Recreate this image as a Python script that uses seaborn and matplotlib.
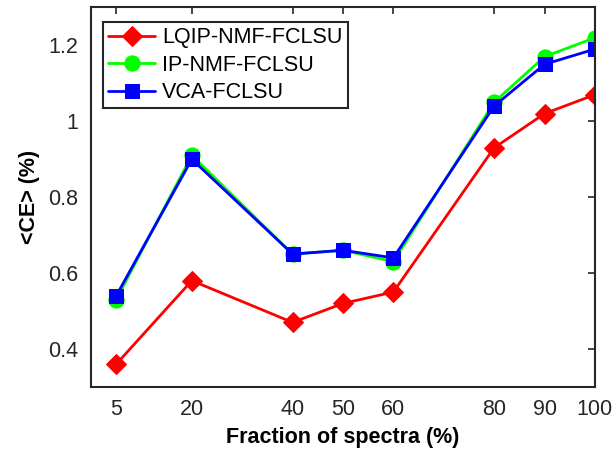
import matplotlib
matplotlib.use("Agg")
import matplotlib.pyplot as plt
import seaborn as sns
import pandas as pd

fractions = [5, 20, 40, 50, 60, 80, 90, 100]
lqip = [0.36, 0.58, 0.47, 0.52, 0.55, 0.93, 1.02, 1.07]
ipnmf = [0.53, 0.91, 0.65, 0.66, 0.63, 1.05, 1.17, 1.22]
vca = [0.54, 0.90, 0.65, 0.66, 0.64, 1.04, 1.15, 1.19]
names = ["LQIP-NMF-FCLSU", "IP-NMF-FCLSU", "VCA-FCLSU"]
yticks = [0.4, 0.6, 0.8, 1.0, 1.2]
ytick_labels = ["0.4", "0.6", "0.8", "1", "1.2"]

df = pd.DataFrame({
    "x": fractions * 3,
    "y": lqip + ipnmf + vca,
    "method": [names[0]] * 8 + [names[1]] * 8 + [names[2]] * 8,
})

sns.set_style("white")
plt.rcParams['font.family'] = ['Liberation Sans', 'DejaVu Sans']

fig = plt.figure(figsize=(6.13, 4.59), dpi=100)
ax = fig.add_axes([0.1485, 0.157, 0.822, 0.827])

palette = {names[0]: "#ff0000", names[1]: "#00ff00", names[2]: "#0000ff"}
markers = {names[0]: "D", names[1]: "o", names[2]: "s"}
sizes_m = {names[0]: 10, names[1]: 11, names[2]: 10}

for n in names:
    sub = df[df["method"] == n]
    sns.lineplot(data=sub, x="x", y="y", ax=ax, color=palette[n], marker=markers[n],
                 markersize=sizes_m[n], markeredgecolor=palette[n], linewidth=2,
                 label=n)

ax.set_xlim(0, 100)
ax.set_ylim(0.3, 1.3)
ax.set_xticks(fractions)
ax.set_xticklabels([str(f) for f in fractions])
ax.set_yticks(yticks)
ax.set_yticklabels(ytick_labels)
ax.tick_params(direction="in", length=5, width=1.2, top=True, right=True,
               labelsize=15.5, colors="#262626", pad=9)
for s in ax.spines.values():
    s.set_color("#262626")
    s.set_linewidth(1.5)
ax.set_xlabel("Fraction of spectra (%)", fontsize=15.5, fontweight="bold", labelpad=5,
              color="black")
ax.set_ylabel("<CE> (%)", fontsize=15.5, fontweight="bold", labelpad=6, color="black")

leg = ax.legend(loc="upper left", bbox_to_anchor=(0.023, 0.962), fontsize=15.5,
                frameon=True, fancybox=False, handlelength=2.2, borderpad=0.25,
                labelspacing=0.3, handletextpad=0.3, borderaxespad=0)
leg.get_frame().set_edgecolor("#262626")
leg.get_frame().set_linewidth(1.5)
leg.get_frame().set_alpha(1)
for t in leg.get_texts():
    t.set_color("black")

fig.savefig("out.png", dpi=100)
